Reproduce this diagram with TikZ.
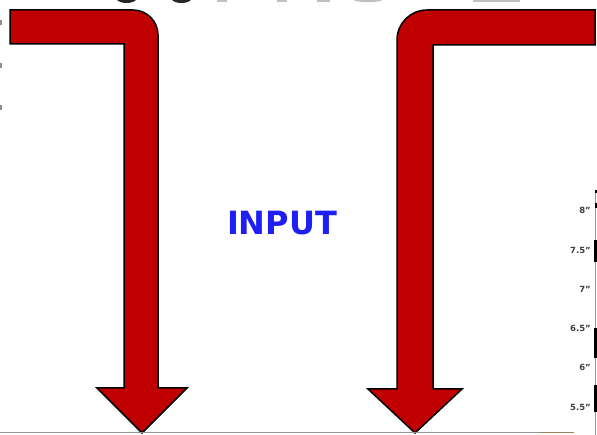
\documentclass[tikz,border=0pt]{standalone}
\usepackage{fontspec}
\setmainfont{DejaVu Sans}
\definecolor{arrowred}{RGB}{192,0,0}
\definecolor{inputblue}{RGB}{30,30,245}
\definecolor{rulergray}{RGB}{150,150,150}
\definecolor{brownish}{RGB}{160,130,95}
\begin{document}
\begin{tikzpicture}[x=1pt,y=-1pt,
  bigarrow/.style={fill=arrowred,draw=black,line width=1.5pt,line join=miter},
  rulerlabel/.style={font=\bfseries\fontsize{8.5}{9}\selectfont,text=black!75,anchor=east,inner sep=0pt},
  sliverdark/.style={fill=black!85},
  sliverlight/.style={fill=black!25},
  tickmark/.style={fill=black!45}]
\useasboundingbox (0,0) rectangle (597,435);
\fill[white] (0,0) rectangle (597,435);

% slivers of cut-off text at the top edge
\fill[sliverdark] (117,0) .. controls (121,4) and (132,4) .. (136,0) -- cycle;
\fill[sliverdark] (172,0) .. controls (176,4) and (187,4) .. (191,0) -- cycle;
\fill[sliverlight] (217,0) rectangle (227,2);
\fill[sliverlight] (277,0) rectangle (287,2);
\fill[sliverlight] (317,0) rectangle (330,2);
\fill[sliverlight] (353,0) .. controls (360,3) and (376,3) .. (383,0) -- cycle;
\fill[sliverlight] (473,0) rectangle (520,2);

% small marks on the left edge
\fill[tickmark] (0,20) rectangle (2,25);
\fill[tickmark] (0,63) rectangle (2,68);
\fill[tickmark] (0,105) rectangle (2,110);

% left bent arrow
\draw[bigarrow] (10,10) -- (133,10) .. controls (146.8,10) and (158,21.2) .. (158,35)
  -- (158,388) -- (187,388) -- (142,433) -- (97,388) -- (124,388) -- (124,44) -- (10,44) -- cycle;

% right bent arrow
\draw[bigarrow] (595,10) -- (427,10) .. controls (410.4,10) and (397,23.4) .. (397,40)
  -- (397,389) -- (368,389) -- (415,433) -- (462,389) -- (433,389) -- (433,45) -- (595,45) -- cycle;

% label
\node[font=\bfseries\fontsize{32}{34}\selectfont,text=inputblue,inner sep=0pt] (input) at (282,223.5) {INPUT};

% bottom line
\draw[rulergray,line width=1pt] (0,432.5) -- (540,432.5);
\draw[brownish,line width=1.2pt] (540,432.5) -- (574,432.5);

% ruler on the right
\draw[rulergray,line width=1pt] (595.5,190) -- (595.5,435);
\fill[black] (594.5,190) rectangle (596.5,193);
\fill[black] (594.5,203) rectangle (596.5,208);
\fill[black] (594,240) rectangle (597,262);
\fill[black] (594,328) rectangle (597,358);
\fill[black] (594,385) rectangle (597,412);
\node[rulerlabel] (r8) at (591,210) {8"};
\node[rulerlabel] (r75) at (591,250) {7.5"};
\node[rulerlabel] (r7) at (591,289) {7"};
\node[rulerlabel] (r65) at (591,328) {6.5"};
\node[rulerlabel] (r6) at (591,367) {6"};
\node[rulerlabel] (r55) at (591,407) {5.5"};
\end{tikzpicture}
\end{document}
